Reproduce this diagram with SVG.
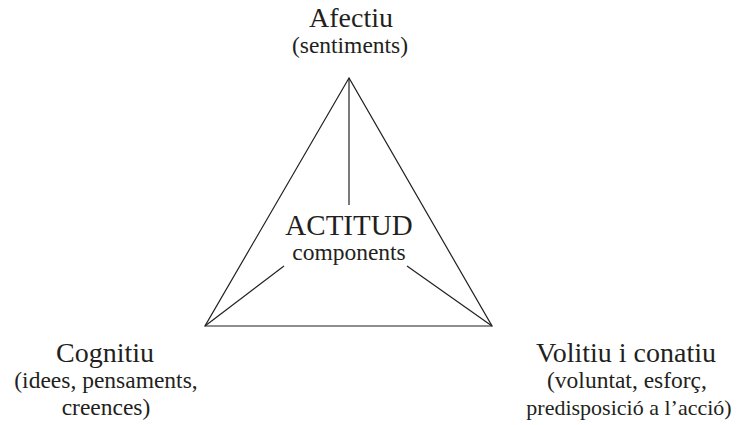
<svg xmlns="http://www.w3.org/2000/svg" width="740" height="425" viewBox="0 0 740 425">
<style>
text{font-family:"Liberation Serif","DejaVu Serif",serif;fill:#231f20;text-anchor:middle}
.h{font-size:28px}
.s{font-size:23.5px}
.c{font-size:29px}
.t{font-size:22px}
.e{stroke:#231f20;stroke-width:1.2;fill:none;stroke-linejoin:miter}
</style>
<rect width="740" height="425" fill="#fff"/>
<g id="connectors">
<polygon class="e" points="349,78 205,326 492,326"/>
<line class="e" x1="349" y1="78" x2="349" y2="205"/>
<line class="e" x1="205" y1="326" x2="284" y2="266"/>
<line class="e" x1="492" y1="326" x2="407" y2="266"/>
</g>
<g id="afectiu">
<text class="h" x="351" y="27">Afectiu</text>
<text class="s" x="350" y="53">(sentiments)</text>
</g>
<g id="actitud">
<text class="c" x="349" y="235">ACTITUD</text>
<text class="s" x="349" y="260">components</text>
</g>
<g id="cognitiu">
<text class="h" x="105" y="362">Cognitiu</text>
<text class="s" x="106" y="388">(idees, pensaments,</text>
<text class="s" x="106" y="415">creences)</text>
</g>
<g id="volitiu">
<text class="h" x="626" y="362">Volitiu i conatiu</text>
<text class="s" x="627" y="388">(voluntat, esforç,</text>
<text class="s t" x="629" y="415">predisposició a l’acció)</text>
</g>
</svg>
